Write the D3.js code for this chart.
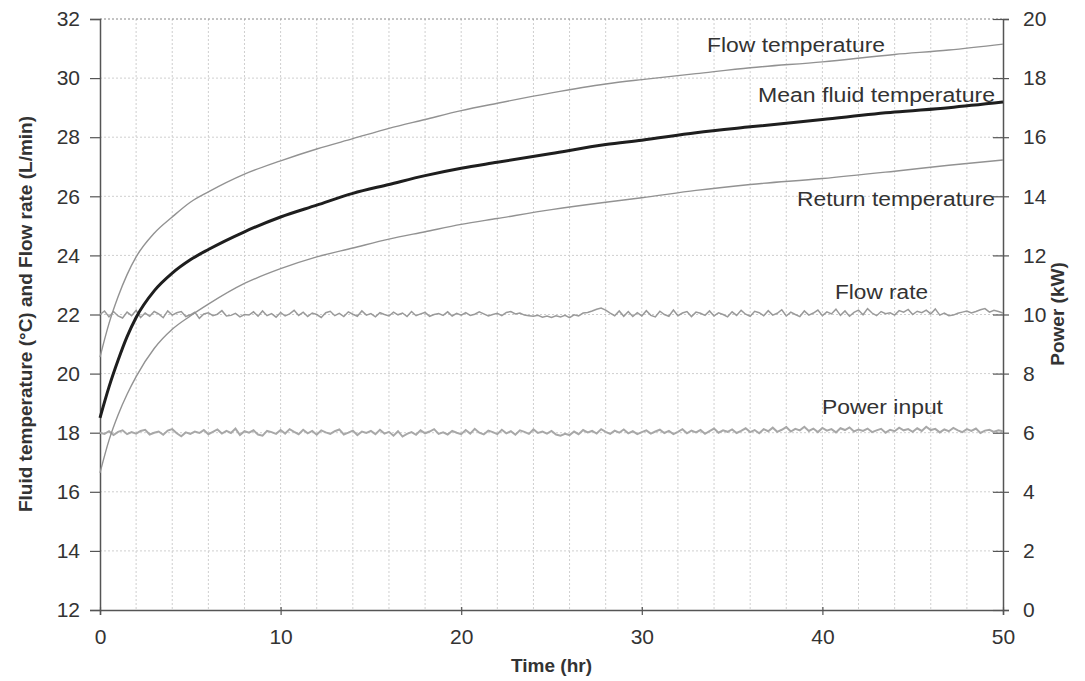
<!DOCTYPE html>
<html>
<head>
<meta charset="utf-8">
<script src="https://cdn.jsdelivr.net/npm/d3@7"></script>
<style>
  body { margin: 0; background: #fff; }
  text { font-family: "Liberation Sans", Arial, sans-serif; fill: #333; }
</style>
</head>
<body>
<div class="chart"></div>
<script>
// hours for the smooth temperature curves
var curveHours = [0, 0.5, 1, 1.5, 2, 3, 4, 5, 6, 8, 10, 12, 14, 16, 18, 20, 22, 25, 28, 30, 33, 36, 40, 44, 47, 50];

// temperatures (deg C), left axis
var flowTemp = [20.56, 21.7, 22.6, 23.35, 23.95, 24.75, 25.3, 25.8, 26.15, 26.75, 27.2, 27.6, 27.95, 28.3, 28.6, 28.9, 29.15, 29.5, 29.8, 29.95, 30.15, 30.35, 30.55, 30.8, 30.95, 31.15];
var meanTemp = [18.5, 19.55, 20.45, 21.25, 21.9, 22.8, 23.4, 23.85, 24.2, 24.8, 25.3, 25.7, 26.1, 26.4, 26.7, 26.95, 27.15, 27.45, 27.75, 27.9, 28.15, 28.35, 28.6, 28.85, 29.0, 29.19];
var returnTemp = [16.64, 17.75, 18.6, 19.3, 19.9, 20.85, 21.5, 21.95, 22.35, 23.05, 23.55, 23.95, 24.25, 24.55, 24.8, 25.05, 25.25, 25.55, 25.8, 25.95, 26.2, 26.4, 26.6, 26.85, 27.05, 27.23];

// flow rate (L/min), left axis, logged every 0.25 hr
var flowRate = [
  22.00, 22.12, 21.92, 22.10, 21.95, 21.88, 22.08, 21.96, 22.14, 21.90, 22.05, 21.94, 22.10, 22.02, 21.89, 22.12, 21.98, 22.06, 22.10, 21.93,
  21.99, 22.08, 21.87, 22.02, 22.06, 21.96, 22.01, 22.13, 21.95, 21.97, 22.04, 21.92, 22.00, 21.98, 22.09, 21.94, 22.12, 21.96, 22.03, 21.91,
  22.07, 21.95, 22.02, 22.14, 21.97, 22.08, 21.93, 22.05, 22.00, 21.90, 22.06, 22.11, 21.96, 22.04, 21.93, 22.09, 22.01, 21.94, 22.12, 21.98,
  22.03, 21.92, 22.06, 22.00, 21.95, 22.08, 21.99, 22.05, 21.93, 22.10, 21.96, 22.02, 22.07, 21.94, 22.00, 22.03, 21.97, 22.09, 21.95, 22.04,
  21.98, 22.06, 21.97, 22.01, 22.09, 22.02, 21.95, 22.00, 22.04, 21.96, 22.07, 22.10, 22.02, 22.05, 21.98, 21.96, 21.94, 21.97, 21.91, 21.95,
  21.90, 21.96, 21.92, 21.97, 21.89, 21.99, 21.95, 22.05, 22.07, 22.12, 22.18, 22.22, 22.15, 22.05, 21.96, 22.12, 21.94, 22.10, 21.93, 22.06,
  21.95, 22.13, 21.97, 21.92, 22.11, 22.00, 21.94, 22.15, 21.96, 22.05, 22.10, 21.93, 22.08, 22.04, 21.97, 22.12, 21.95, 22.06, 22.00, 21.92,
  22.09, 21.97, 22.14, 22.01, 21.94, 22.11, 22.06, 21.96, 22.13, 21.98, 22.04, 22.16, 21.95, 22.08, 22.00, 21.93, 22.12, 21.98, 22.05, 22.15,
  21.96, 22.09, 22.02, 22.18, 21.97, 22.12, 21.94, 22.07, 22.15, 21.99, 22.20, 22.05, 21.96, 22.10, 22.03, 22.06, 21.98, 22.13, 22.08, 22.17,
  22.00, 22.11, 22.06, 22.15, 22.02, 22.19, 21.98, 22.05, 21.96, 21.98, 22.04, 22.08, 22.12, 22.05, 22.10, 22.16, 22.20, 22.08, 22.14, 22.10,
  22.05
];

// power input (kW), right axis, logged every 0.25 hr
var powerInput = [
  6.00, 5.96, 6.05, 5.92, 6.03, 6.08, 5.95, 6.02, 5.97, 6.06, 6.10, 5.94, 6.00, 6.04, 5.93, 6.07, 6.12, 5.98, 5.88, 6.01,
  5.96, 6.04, 5.99, 6.09, 5.95, 6.03, 6.11, 5.97, 6.06, 5.99, 6.14, 5.92, 6.05, 6.00, 6.08, 5.94, 5.90, 6.06, 6.02, 5.96,
  6.09, 5.97, 6.12, 6.03, 5.95, 6.10, 5.98, 6.06, 5.93, 6.08, 6.01, 5.96, 6.05, 6.11, 5.94, 6.00, 6.07, 5.92, 6.04, 5.99,
  6.06, 5.95, 6.10, 5.97, 6.03, 5.90, 6.05, 5.87, 5.96, 6.02, 5.93, 6.08, 5.98, 6.04, 6.12, 5.96, 6.01, 5.94, 6.06, 6.00,
  5.95, 6.09, 5.97, 6.13, 6.00, 5.94, 6.07, 6.02, 5.95, 6.10, 5.98, 6.05, 5.93, 6.08, 6.03, 5.96, 6.11, 5.99, 6.04, 5.97,
  6.06, 5.94, 5.90, 5.96, 5.92, 6.04, 5.95, 6.09, 6.01, 6.06, 5.97, 6.12, 6.03, 5.96, 6.07, 6.00, 6.11, 5.98, 6.05, 5.95,
  6.02, 6.08, 5.97, 6.04, 6.10, 5.99, 6.06, 5.95, 6.03, 6.12, 5.98, 6.07, 6.01, 6.09, 5.96, 6.05, 6.14, 6.00, 6.08, 6.03,
  6.11, 5.99, 6.06, 6.15, 6.02, 6.09, 5.98, 6.12, 6.05, 6.17, 6.03, 6.10, 6.19, 6.04, 6.13, 6.08, 6.20, 6.06, 6.14, 6.02,
  6.16, 6.07, 6.12, 6.01, 6.15, 6.09, 6.18, 6.04, 6.11, 6.06, 6.14, 6.02, 6.08, 6.13, 6.00, 6.10, 6.05, 6.17, 6.08, 6.12,
  6.03, 6.15, 6.06, 6.20, 6.09, 6.13, 6.01, 6.11, 6.05, 6.16, 6.08, 6.02, 6.12, 6.06, 6.14, 5.99, 6.07, 6.10, 6.03, 6.08,
  6.05
];
var logStep = 0.25; // hr between logged readings

var xTicks = [0, 10, 20, 30, 40, 50];
var leftTicks = [12, 14, 16, 18, 20, 22, 24, 26, 28, 30, 32];
var rightTicks = [0, 2, 4, 6, 8, 10, 12, 14, 16, 18, 20];
var seriesNames = ["Flow temperature", "Mean fluid temperature", "Return temperature", "Flow rate", "Power input"];

var width = 1085, height = 681;
var plotL = 100, plotR = 1003, plotT = 19, plotB = 610;

var svg = d3.select(".chart").append("svg")
    .attr("width", width)
    .attr("height", height);

var x = d3.scaleLinear().domain([0, 50]).range([plotL, plotR]);
var yL = d3.scaleLinear().domain([12, 32]).range([plotB, plotT]);
var yR = d3.scaleLinear().domain([0, 20]).range([plotB, plotT]);

//Grid lines, dotted
var grid = svg.append("g").attr("class", "grid");
grid.selectAll("line.v")
    .data(d3.range(2, 50, 2))
    .enter().append("line")
    .attr("x1", d => x(d)).attr("x2", d => x(d))
    .attr("y1", plotT).attr("y2", plotB)
    .style("stroke", "#cfcfcf").style("stroke-dasharray", "2,2");
grid.selectAll("line.h")
    .data(leftTicks.slice(1))
    .enter().append("line")
    .attr("x1", plotL).attr("x2", plotR)
    .attr("y1", d => yL(d)).attr("y2", d => yL(d))
    .style("stroke", d => d == 32 ? "#888" : "#cfcfcf")
    .style("stroke-dasharray", "2,2");

//Axes
var xAxis = svg.append("g")
    .attr("transform", "translate(0," + plotB + ")")
    .call(d3.axisBottom(x).tickValues(xTicks).tickSize(5).tickPadding(14));
var yAxisL = svg.append("g")
    .attr("transform", "translate(" + plotL + ",0)")
    .call(d3.axisLeft(yL).tickValues(leftTicks).tickSize(10).tickPadding(10));
var yAxisR = svg.append("g")
    .attr("transform", "translate(" + plotR + ",0)")
    .call(d3.axisRight(yR).tickValues(rightTicks).tickSize(6).tickPadding(14));
yAxisR.selectAll(".tick line").attr("x1", -10);
xAxis.selectAll(".tick line").attr("y1", -3);

[xAxis, yAxisL, yAxisR].forEach(function(a) {
  a.select(".domain").style("stroke", "#555").style("stroke-width", 1.5);
  a.selectAll(".tick line").style("stroke", "#555").style("stroke-width", 1.2);
  a.selectAll(".tick text")
    .style("font-size", "21px")
    .style("font-family", "'Liberation Sans', Arial, sans-serif")
    .style("fill", "#333");
});

//Lines
var tempLine = function(vals) {
  return d3.line()
    .x((d, i) => x(curveHours[i]))
    .y(d => yL(d))
    .curve(d3.curveMonotoneX)(vals);
};
var loggedLine = function(vals, scale) {
  return d3.line()
    .x((d, i) => x(i * logStep))
    .y(d => scale(d))(vals);
};

svg.append("path").attr("d", loggedLine(flowRate, yL))
    .style("fill", "none").style("stroke", "#9a9a9a").style("stroke-width", 1.5);
svg.append("path").attr("d", loggedLine(powerInput, yR))
    .style("fill", "none").style("stroke", "#a8a8a8").style("stroke-width", 2);
svg.append("path").attr("d", tempLine(flowTemp))
    .style("fill", "none").style("stroke", "#929292").style("stroke-width", 1.4);
svg.append("path").attr("d", tempLine(returnTemp))
    .style("fill", "none").style("stroke", "#929292").style("stroke-width", 1.4);
svg.append("path").attr("d", tempLine(meanTemp))
    .style("fill", "none").style("stroke", "#1e1e1e").style("stroke-width", 3);

//Series labels
var labelPos = [[885, 52, 178], [995, 102, 237], [995, 206, 198], [928, 299, 93], [943, 414, 121]];
svg.selectAll("text.lbl")
    .data(seriesNames)
    .enter().append("text")
    .attr("class", "lbl")
    .attr("x", (d, i) => labelPos[i][0])
    .attr("y", (d, i) => labelPos[i][1])
    .attr("text-anchor", "end")
    .attr("textLength", (d, i) => labelPos[i][2])
    .attr("lengthAdjust", "spacingAndGlyphs")
    .style("font-size", "20px")
    .text(d => d);

//Axis titles
svg.append("text")
    .attr("transform", "translate(32,314) rotate(-90)")
    .attr("text-anchor", "middle")
    .style("font-size", "19px").style("font-weight", "bold")
    .text("Fluid temperature (°C) and Flow rate (L/min)");
svg.append("text")
    .attr("transform", "translate(1064,314) rotate(-90)")
    .attr("text-anchor", "middle")
    .style("font-size", "19px").style("font-weight", "bold")
    .text("Power (kW)");
svg.append("text")
    .attr("x", (plotL + plotR) / 2)
    .attr("y", 672)
    .attr("text-anchor", "middle")
    .style("font-size", "19px").style("font-weight", "bold")
    .text("Time (hr)");
</script>
</body>
</html>
